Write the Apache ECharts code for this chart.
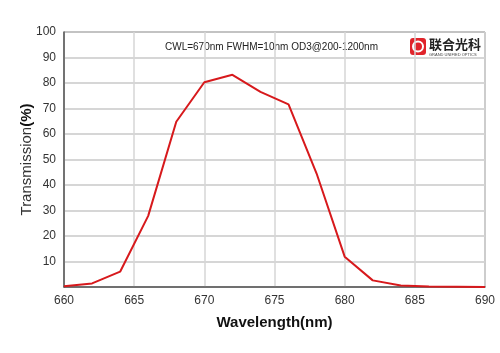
<!DOCTYPE html>
<html>
<head>
<meta charset="utf-8">
<script src="https://cdn.jsdelivr.net/npm/echarts@6/dist/echarts.min.js"></script>
<style>
html, body { margin: 0; padding: 0; background: #fff; }
#chart { width: 500px; height: 353px; }
</style>
</head>
<body>
<div id="chart"></div>
<script>
// wavelength (nm) and transmission (%)
var wavelengths = [660, 662, 664, 666, 668, 670, 672, 674, 676, 678, 680, 682, 684, 686, 688, 690];
var transmission = [0.3, 1.4, 6.0, 27.9, 64.8, 80.3, 83.2, 76.5, 71.6, 44.5, 11.9, 2.6, 0.6, 0.2, 0.1, 0.0];
var xTicks = [660, 665, 670, 675, 680, 685, 690];
var yTicks = [10, 20, 30, 40, 50, 60, 70, 80, 90, 100];
var note = 'CWL=670nm FWHM=10nm OD3@200-1200nm';

var seriesData = wavelengths.map(function (w, i) { return [w, transmission[i]]; });

var chart = echarts.init(document.getElementById('chart'));
var option = {
    backgroundColor: '#fff',
    animation: false,
    grid: {
        left: 64, right: 15, top: 32, bottom: 66,
        show: true, borderColor: '#666', borderWidth: 1
    },
    xAxis: {
        type: 'value',
        min: 660, max: 690, interval: 5,
        name: 'Wavelength(nm)',
        nameLocation: 'middle',
        nameGap: 28,
        nameTextStyle: { fontFamily: 'Liberation Sans', fontSize: 15, fontWeight: 'bold', color: '#111' },
        axisLine: { lineStyle: { color: '#555', width: 1.5 } },
        axisTick: { show: false },
        axisLabel: {
            fontFamily: 'Liberation Sans', fontSize: 12, color: '#333', margin: 8,
            formatter: function (v) { return xTicks.indexOf(v) >= 0 ? v : ''; }
        },
        splitLine: { show: true, lineStyle: { color: '#d6d6d6', width: 1.5 } }
    },
    yAxis: {
        type: 'value',
        min: 0, max: 100, interval: 10,
        name: 'Transmission{b|(%)}',
        nameLocation: 'middle',
        nameGap: 30,
        nameMoveOverlap: false,
        nameTextStyle: {
            fontFamily: 'Liberation Sans', fontSize: 15, color: '#333',
            rich: { b: { fontFamily: 'Liberation Sans', fontSize: 15, fontWeight: 'bold', color: '#111' } }
        },
        axisLine: { lineStyle: { color: '#555', width: 1.5 } },
        axisTick: { show: false },
        axisLabel: {
            fontFamily: 'Liberation Sans', fontSize: 12, color: '#333', margin: 8,
            formatter: function (v) { return yTicks.indexOf(v) >= 0 ? v : ''; }
        },
        splitLine: { show: true, lineStyle: { color: '#c8c8c8', width: 1.5 } }
    },
    series: [{
        type: 'line',
        data: seriesData,
        symbol: 'none',
        lineStyle: { color: '#d7191c', width: 2 }
    }],
    graphic: [
        {
            type: 'text', left: 165, top: 42,
            style: { text: note, fontFamily: 'Liberation Sans', fontSize: 10, fill: '#222' }
        },
        {
            type: 'rect', left: 410, top: 38,
            shape: { width: 16, height: 17, r: 3 },
            style: { fill: '#e0242b' }
        },
        {
            type: 'circle',
            shape: { cx: 418, cy: 46.5, r: 5 },
            style: { fill: 'none', stroke: '#fff', lineWidth: 2 }
        },
        {
            type: 'text', left: 429, top: 38,
            style: { text: '联合光科', fontFamily: 'Noto Sans CJK SC', fontSize: 13, fontWeight: 'bold', fill: '#222' }
        },
        {
            type: 'text', left: 429, top: 53,
            style: { text: 'GRAND UNIFIED OPTICS', fontFamily: 'Liberation Sans', fontSize: 4, fill: '#444' }
        }
    ]
};
chart.setOption(option);
</script>
</body>
</html>
